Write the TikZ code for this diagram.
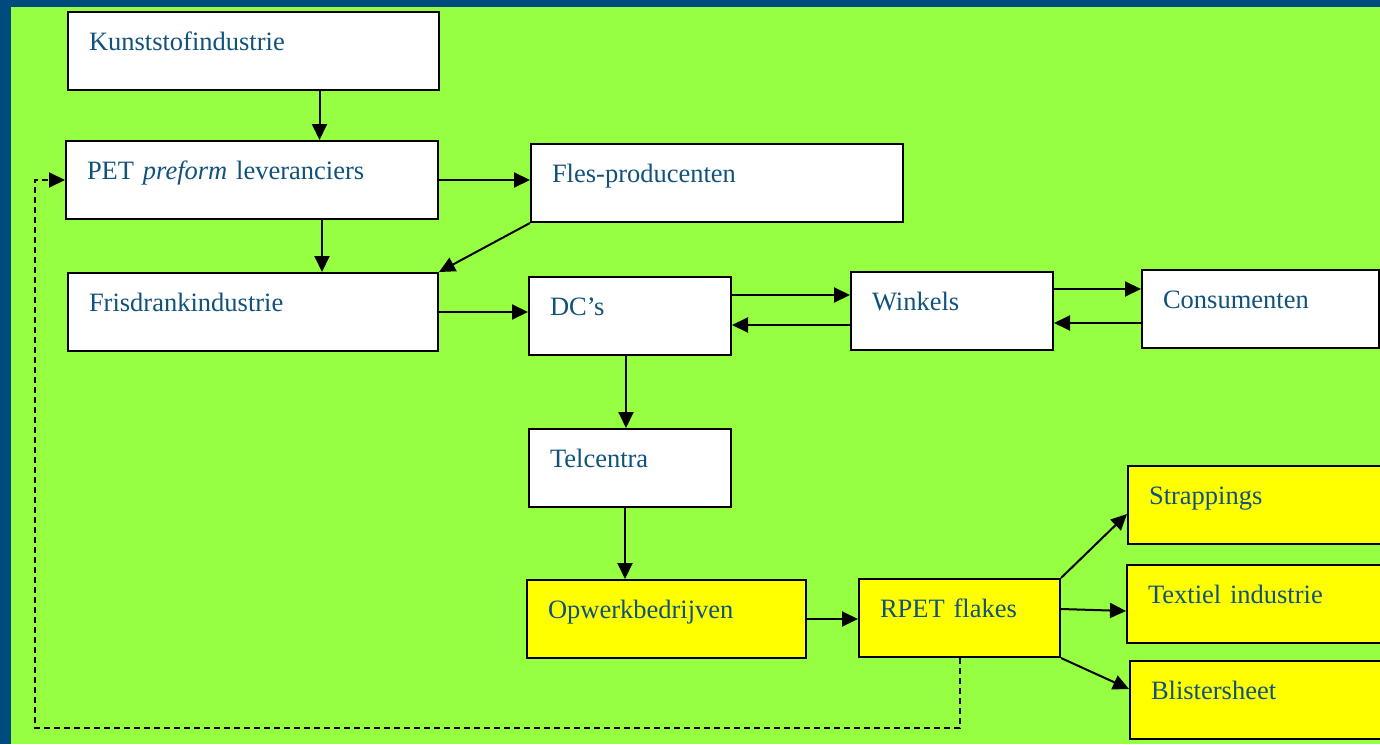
\documentclass[tikz,border=0pt]{standalone}
\usepackage{fontspec}
\setmainfont{Liberation Serif}
\usetikzlibrary{arrows.meta,calc}
\definecolor{achtergrond}{RGB}{150,255,66}
\definecolor{rand}{RGB}{0,75,125}
\definecolor{tekst}{RGB}{16,82,124}
\definecolor{geel}{RGB}{255,255,0}
\tikzset{
    blok/.style = {draw, line width=2pt, fill=white, anchor=north west,
        align=left, inner xsep=21pt, inner ysep=0pt,
        text height=38pt, text depth=40pt, text width=#1,
        text=tekst, font=\fontsize{26.5pt}{30pt}\selectfont},
    geelblok/.style = {blok=#1, fill=geel},
    pijl/.style = {draw, line width=2pt, ->},
    terugpijl/.style = {draw, line width=2pt, ->, dash pattern=on 6pt off 4pt}
}
\begin{document}
\begin{tikzpicture}[x=1pt, y=-1pt, >={Triangle[length=16pt,width=15pt]}]
    \useasboundingbox (0,0) rectangle (1380,744);
    \clip (0,0) rectangle (1380,744);
    \fill[achtergrond] (0,0) rectangle (1380,744);
    \fill[rand] (0,0) rectangle (1380,7);
    \fill[rand] (0,0) rectangle (11,744);
        \node [blok=329pt, name=kunst] at (67,11) {Kunststofindustrie};
        \node [blok=330pt, name=preform] at (65,140) {PET \textit{preform} leveranciers};
        \node [blok=330pt, name=fles] at (530,143) {Fles-producenten};
        \node [blok=328pt, name=fris] at (67,272) {Frisdrankindustrie};
        \node [blok=160pt, name=dc] at (528,276) {DC’s};
        \node [blok=160pt, name=winkels] at (850,271) {Winkels};
        \node [blok=195pt, name=consument] at (1141,269) {Consumenten};
        \node [blok=160pt, name=telcentra] at (528,428) {Telcentra};
        \node [geelblok=237pt, name=opwerk] at (526,579) {Opwerkbedrijven};
        \node [geelblok=159pt, name=rpet] at (858,578) {RPET flakes};
        \node [geelblok=228pt, name=strap] at (1127,465) {Strappings};
        \node [geelblok=228pt, name=textiel] at (1126,564) {Textiel industrie};
        \node [geelblok=228pt, name=blister] at (1129,660) {Blistersheet};
        \coordinate (terug) at (35,728);
    \draw [pijl] ([xshift=66pt]kunst.south) -- ([xshift=66pt]kunst.south |- preform.north);
    \draw [pijl] (preform.east) -- (preform.east -| fles.west);
    \draw [pijl] ([xshift=70pt]preform.south) -- ([xshift=70pt]preform.south |- fris.north);
    \draw [pijl] (fles.south west) -- (fris.north east);
    \draw [pijl] (fris.east) -- (fris.east -| dc.west);
    \draw [pijl] ([yshift=-19pt]dc.north east) -- ([yshift=-19pt]dc.north east -| winkels.west);
    \draw [pijl] ([yshift=-14pt]winkels.west) -- ([yshift=-14pt]winkels.west -| dc.east);
    \draw [pijl] ([yshift=-18pt]winkels.north east) -- ([yshift=-18pt]winkels.north east -| consument.west);
    \draw [pijl] ([yshift=-14pt]consument.west) -- ([yshift=-14pt]consument.west -| winkels.east);
    \draw [pijl] ([xshift=-4pt]dc.south) -- ([xshift=-4pt]dc.south |- telcentra.north);
    \draw [pijl] ([xshift=-5pt]telcentra.south) -- ([xshift=-5pt]telcentra.south |- opwerk.north);
    \draw [pijl] (opwerk.east) -- (opwerk.east -| rpet.west);
    \draw [pijl] (rpet.north east) -- ([yshift=-9pt]strap.west);
    \draw [pijl] ([yshift=9pt]rpet.east) -- ([yshift=-7pt]textiel.west);
    \draw [pijl] (rpet.south east) -- ([yshift=11pt]blister.west);
    \draw [terugpijl] (rpet.south) |- (terug) |- (preform.west);
\end{tikzpicture}
\end{document}
